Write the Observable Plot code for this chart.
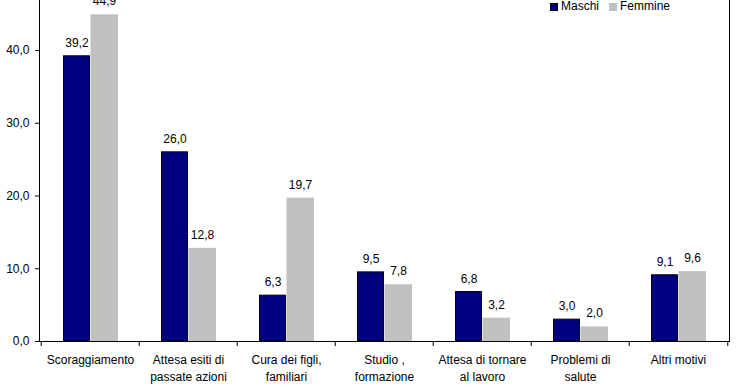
<!DOCTYPE html>
<html><head><meta charset="utf-8">
<script src="https://cdn.jsdelivr.net/npm/d3@7"></script>
<script src="https://cdn.jsdelivr.net/npm/@observablehq/plot@0.6"></script>
<style>
body{margin:0;background:#fff;font-family:"Liberation Sans",Arial,sans-serif;}
#wrap{position:relative;width:740px;height:389px;overflow:hidden;}
#legend{position:absolute;top:0;left:550px;font-size:12px;line-height:13px;display:flex;align-items:center;color:#000;}
#legend .sw{display:inline-block;width:6px;height:6px;box-sizing:content-box;}
</style></head><body><div id="wrap"><div id="legend"></div></div>
<script>
const categories = ["Scoraggiamento","Attesa esiti di passate azioni","Cura dei figli, familiari","Studio, formazione professionale","Attesa di tornare al lavoro","Problemi di salute","Altri motivi"];
const categoryLabels = ["Scoraggiamento","Attesa esiti di\npassate azioni","Cura dei figli,\nfamiliari","Studio ,\nformazione\nprofessionale","Attesa di tornare\nal lavoro","Problemi di\nsalute","Altri motivi"];
const maschi = [39.2, 26.0, 6.3, 9.5, 6.8, 3.0, 9.1];
const femmine = [44.9, 12.8, 19.7, 7.8, 3.2, 2.0, 9.6];
const seriesNames = ["Maschi","Femmine"];
const seriesColors = ["#000080","#C0C0C0"];
const yTicks = [0,10,20,30,40];

const fmt = v => d3.format(".1f")(v).replace(".", ",");
const W = 740, H = 389, mL = 39, mR = 11;
const bw = (W - mL - mR) / categories.length;
const rowsM = categories.map((c,i)=>({cat:c, value:maschi[i]}));
const rowsF = categories.map((c,i)=>({cat:c, value:femmine[i]}));

const chart = Plot.plot({
  width: W, height: H,
  marginLeft: mL, marginRight: mR, marginTop: 0, marginBottom: 48,
  style: {fontFamily: '"Liberation Sans", Arial, sans-serif', fontSize: "12px", color: "#000", background: "#fff"},
  x: {domain: categories, padding: 0, label: null},
  y: {domain: [0, 46.87], label: null},
  marks: [
    Plot.barY(rowsM, {x: "cat", y: "value", fill: seriesColors[0], stroke: "#000", strokeWidth: 1, insetLeft: 22.5, insetRight: bw - 49}),
    Plot.barY(rowsF, {x: "cat", y: "value", fill: seriesColors[1], insetLeft: 49.5, insetRight: 21}),
    Plot.text(rowsM, {x: "cat", y: "value", text: d => fmt(d.value), dx: -13.5, dy: -9.5, lineAnchor: "bottom", fill: "#000"}),
    Plot.text(rowsF, {x: "cat", y: "value", text: d => fmt(d.value), dx: 14, dy: -9.5, lineAnchor: "bottom", fill: "#000"}),
    Plot.axisY({ticks: yTicks, tickFormat: fmt, tickSize: 4, tickPadding: 6}),
    Plot.axisX({tickSize: 0, tickPadding: 10.5, lineHeight: 1.42, tickFormat: c => categoryLabels[categories.indexOf(c)]}),
    Plot.axisX({tickSize: 5, tickFormat: () => "", dx: -bw/2}),
    Plot.axisX({ticks: [categories[categories.length-1]], tickSize: 5, tickFormat: () => "", dx: bw/2}),
    Plot.frame({anchor: "left", stroke: "#000"}),
    Plot.frame({anchor: "right", stroke: "#000"}),
    Plot.ruleY([0], {stroke: "#000"})
  ]
});
document.getElementById("wrap").prepend(chart);

const legend = document.getElementById("legend");
seriesNames.forEach((name, i) => {
  const sw = document.createElement("span");
  sw.className = "sw";
  sw.style.background = seriesColors[i];
  sw.style.border = i === 0 ? "1px solid #000" : "1px solid " + seriesColors[i];
  sw.style.marginLeft = i === 0 ? "0px" : "10px";
  sw.style.marginRight = "3px";
  const t = document.createElement("span");
  t.textContent = name;
  legend.append(sw, t);
});
</script>
</body></html>
